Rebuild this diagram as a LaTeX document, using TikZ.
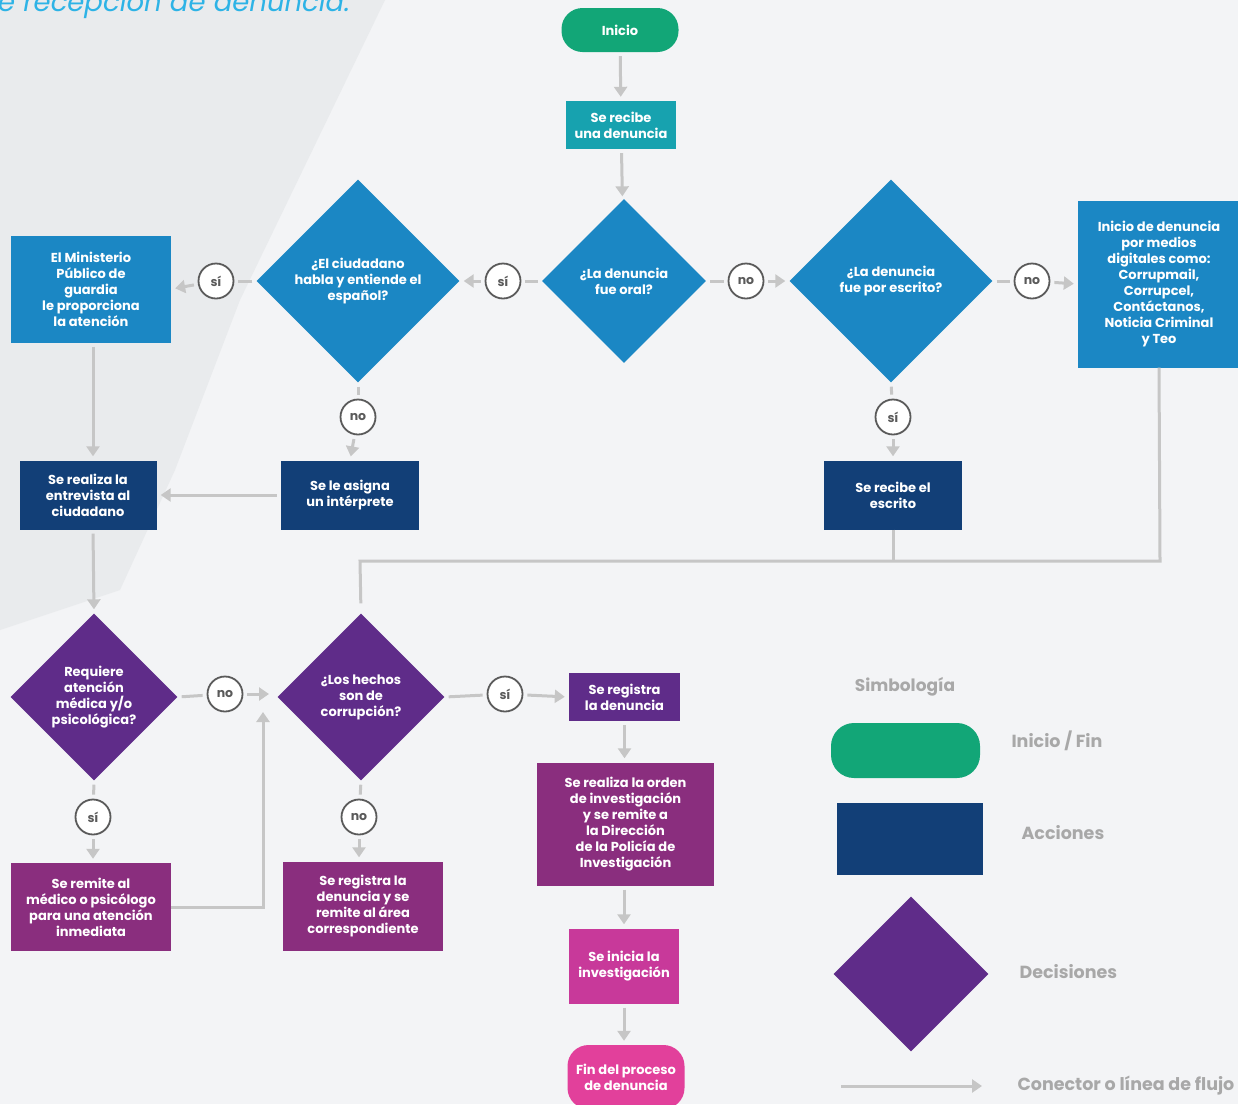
\documentclass[tikz,border=0pt]{standalone}
\usepackage{fontspec}
\setmainfont{Poppins}
\usetikzlibrary{shapes.geometric,arrows.meta}
\definecolor{bgbase}{HTML}{F3F4F6}
\definecolor{bgdark}{HTML}{E9EBED}
\definecolor{cgreen}{HTML}{12A677}
\definecolor{cteal}{HTML}{17A2AF}
\definecolor{cblue}{HTML}{1B87C4}
\definecolor{cnavy}{HTML}{123F77}
\definecolor{cpurple}{HTML}{5F2C89}
\definecolor{cplum}{HTML}{8A2E7E}
\definecolor{cpink}{HTML}{C8399A}
\definecolor{cfin}{HTML}{E2409B}
\definecolor{cline}{HTML}{C6C6C6}
\definecolor{ccirc}{HTML}{5A5A5A}
\definecolor{clegend}{HTML}{A8A8A8}
\definecolor{ctitle}{HTML}{2DB3E6}
\begin{document}
\begin{tikzpicture}[x=1pt,y=-1pt,
  txt/.style={text=white, align=center, font=\bfseries\fontsize{13}{16}\selectfont},
  box/.style={txt, rectangle, inner sep=0pt},
  dia/.style={txt, diamond, aspect=1, inner sep=0pt},
  pill/.style={txt, rectangle, rounded corners=21pt, inner sep=0pt},
  conn/.style={circle, draw=ccirc, line width=1.8pt, fill=white, minimum size=35pt, inner sep=0pt, text=ccirc, font=\bfseries\fontsize{12.5}{14}\selectfont},
  ln/.style={draw=cline, line width=3pt, shorten <=4pt, shorten >=4pt},
  arr/.style={ln, -{Triangle[length=10pt,width=13pt]}},
  legtxt/.style={text=clegend, font=\bfseries\fontsize{17.5}{19}\selectfont, anchor=west}
]
\useasboundingbox (0,0) rectangle (1238,1104);
% background
\fill[bgbase] (0,0) rectangle (1238,1104);
\fill[bgdark] (0,0) -- (385,0) -- (240,300) -- (175,470) -- (120,590) -- (0,630) -- cycle;
% title
\node[anchor=base west, inner sep=0pt, text=ctitle, font=\itshape\fontsize{27.5}{30}\selectfont] (title) at (-2,11) {e recepción de denuncia.};

% top row
\node[pill, fill=cgreen, minimum width=117pt, minimum height=44pt] (inicio) at (620,30) {Inicio};
\node[box, fill=cteal, minimum width=110pt, minimum height=48pt] (recibe) at (621,125) {Se recibe\\una denuncia};
\node[dia, fill=cblue, minimum width=164pt, minimum height=164pt] (oral) at (624,281) {¿La denuncia\\fue oral?};
\node[dia, fill=cblue, minimum width=203pt, minimum height=203pt] (espanol) at (358,281) {¿El ciudadano\\habla y entiende el\\español?};
\node[dia, fill=cblue, minimum width=203pt, minimum height=203pt] (escrito) at (891,281) {¿La denuncia\\fue por escrito?};
\node[box, fill=cblue, minimum width=162pt, minimum height=167pt] (digital) at (1159,284) {Inicio de denuncia\\por medios\\digitales como:\\Corrupmail,\\Corrupcel,\\Contáctanos,\\Noticia Criminal\\y Teo};
\node[box, fill=cblue, minimum width=160pt, minimum height=107pt] (ministerio) at (91,289) {El Ministerio\\Público de\\guardia\\le proporciona\\la atención};

\node[conn] (c1) at (503,281) {sí};
\node[conn] (c2) at (216,281) {sí};
\node[conn] (c3) at (746,281) {no};
\node[conn] (c4) at (1032,281) {no};
\node[conn] (c5) at (358,417) {no};
\node[conn] (c6) at (893,417) {sí};

\node[box, fill=cnavy, minimum width=137pt, minimum height=69pt] (entrevista) at (88,495) {Se realiza la\\entrevista al\\ciudadano};
\node[box, fill=cnavy, minimum width=138pt, minimum height=69pt] (interprete) at (350,495) {Se le asigna\\un intérprete};
\node[box, fill=cnavy, minimum width=138pt, minimum height=69pt] (recescrito) at (893,495) {Se recibe el\\escrito};

% lower part
\node[dia, fill=cpurple, minimum width=167pt, minimum height=167pt] (requiere) at (94,697) {Requiere\\atención\\médica y/o\\psicológica?};
\node[dia, fill=cpurple, minimum width=167pt, minimum height=167pt] (hechos) at (361,697) {¿Los hechos\\son de\\corrupción?};
\node[conn] (c7) at (225,694) {no};
\node[conn] (c8) at (505,694) {sí};
\node[conn] (c9) at (93,817) {sí};
\node[conn] (c10) at (359,817) {no};

\node[box, fill=cpurple, minimum width=111pt, minimum height=48pt] (registra) at (624.5,697) {Se registra\\la denuncia};
\node[box, fill=cplum, minimum width=177pt, minimum height=123pt] (orden) at (625.5,824) {Se realiza la orden\\de investigación\\y se remite a\\la Dirección\\de la Policía de\\Investigación};
\node[box, fill=cpink, minimum width=110pt, minimum height=75pt] (inicia) at (624,966) {Se inicia la\\investigación};
\node[pill, fill=cfin, minimum width=117pt, minimum height=64pt] (fin) at (626,1077) {Fin del proceso\\de denuncia};
\node[box, fill=cplum, minimum width=160pt, minimum height=88pt] (medico) at (91,907) {Se remite al\\médico o psicólogo\\para una atención\\inmediata};
\node[box, fill=cplum, minimum width=160pt, minimum height=89pt] (registra2) at (363,906) {Se registra la\\denuncia y se\\remite al área\\correspondiente};

% coordinates
\coordinate (j1) at (893,561);
\coordinate (j2) at (1160,561);
\coordinate (j3) at (360,561);
\coordinate (hin) at (269,694);
\coordinate (mup) at (263,907);

% connectors
\draw[arr] (inicio) -- (recibe);
\draw[arr] (recibe) -- (oral);
\draw[ln] (oral.west) -- (c1);
\draw[arr] (c1) -- (espanol.east);
\draw[ln] (espanol.west) -- (c2);
\draw[arr] (c2) -- (ministerio.east);
\draw[ln] (oral.east) -- (c3);
\draw[arr] (c3) -- (escrito.west);
\draw[ln] (escrito.east) -- (c4);
\draw[arr] (c4) -- (digital.west);
\draw[ln] (espanol.south) -- (c5);
\draw[arr] (c5) -- (interprete.north);
\draw[ln] (escrito.south) -- (c6);
\draw[arr] (c6) -- (recescrito.north);
\draw[arr] (ministerio.south -| 93,0) -- (entrevista.north -| 93,0);
\draw[arr] (interprete.west) -- (entrevista.east);
\draw[ln, shorten <=0pt, shorten >=0pt] (recescrito.south) -- (j1);
\draw[ln, shorten <=0pt, shorten >=10pt, line join=miter] (digital.south) -- (j2) -- (j3) -- (hechos.north);
\draw[arr] (entrevista.south -| 93,0) -- (requiere.north);
\draw[ln] (requiere.east) -- (c7);
\draw[arr, shorten >=0pt] (c7) -- (hin);
\draw[arr, shorten <=0pt, line join=miter] (medico.east) -- (mup) -- ++(0,-199);
\draw[ln] (hechos.east) -- (c8);
\draw[arr] (c8) -- (registra.west);
\draw[ln] (requiere.south) -- (c9);
\draw[arr] (c9) -- (medico.north -| c9);
\draw[ln] (hechos.south) -- (c10);
\draw[arr] (c10) -- (registra2.north -| c10);
\draw[arr] (registra) -- (registra.south |- orden.north);
\draw[arr] (orden.south -| inicia) -- (inicia);
\draw[arr] (inicia) -- (inicia.south |- fin.north);

% legend
\node[text=clegend, font=\bfseries\fontsize{17}{19}\selectfont] (simb) at (905,687) {Simbología};
\node[rectangle, rounded corners=23pt, fill=cgreen, minimum width=149pt, minimum height=55pt] (lpill) at (905.5,750.5) {};
\node[legtxt] (lpilltxt) at (1008,741) {Inicio / Fin};
\node[rectangle, fill=cnavy, minimum width=146pt, minimum height=72pt] (lbox) at (910,839) {};
\node[legtxt] (lboxtxt) at (1018,833) {Acciones};
\node[diamond, aspect=1, inner sep=0pt, fill=cpurple, minimum width=155pt, minimum height=155pt] (ldia) at (911,974) {};
\node[legtxt] (ldiatxt) at (1016,972) {Decisiones};
\coordinate (la1) at (841,1086);
\coordinate (la2) at (982,1086);
\draw[arr, shorten <=0pt, shorten >=0pt] (la1) -- (la2);
\node[legtxt] (larrtxt) at (1014,1086) {Conector o línea de flujo};
\end{tikzpicture}
\end{document}
